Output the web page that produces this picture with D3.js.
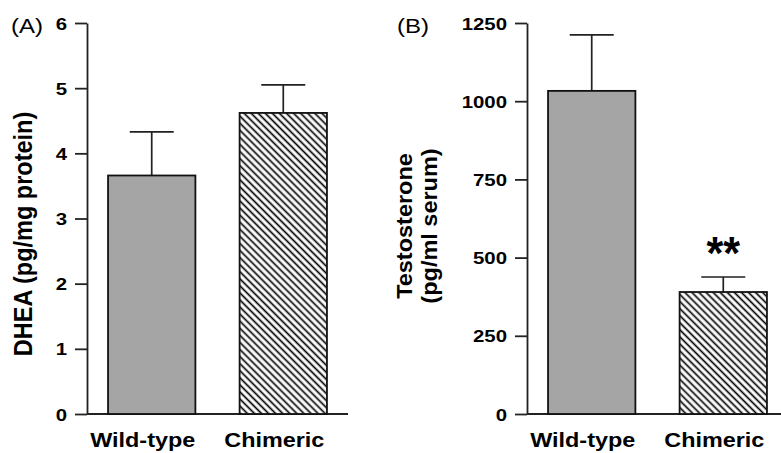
<!DOCTYPE html>
<html>
<head>
<meta charset="utf-8">
<script src="https://cdn.jsdelivr.net/npm/d3@7"></script>
<style>
  body { margin: 0; background: #fff; }
  svg { display: block; font-family: Arial, "Liberation Sans", sans-serif; }
</style>
</head>
<body>
<div id="chart"></div>
<script>
// data
const categories = ["Wild-type", "Chimeric"];
const dheaMean = [3.66, 4.62];
const dheaErr = [0.67, 0.43];
const testoMean = [1033, 390];
const testoErr = [179, 48];
const dheaTicks = [0, 1, 2, 3, 4, 5, 6];
const testoTicks = [0, 250, 500, 750, 1000, 1250];

const width = 781, height = 453;
const plotTop = 23, plotBottom = 414;
const barFills = ["#a5a5a5", "url(#hatch)"];
const sx = 1.2; // figure is stretched horizontally

let svg = d3.select("#chart")
    .append("svg")
        .attr("width", width)
        .attr("height", height);

svg.append("defs")
    .append("pattern")
        .attr("id", "hatch")
        .attr("patternUnits", "userSpaceOnUse")
        .attr("width", 5)
        .attr("height", 5)
        .attr("patternTransform", "rotate(-45)")
    .append("line")
        .attr("x1", 2.5).attr("y1", -1)
        .attr("x2", 2.5).attr("y2", 6)
        .attr("stroke", "#000")
        .attr("stroke-width", 1.7);

let drawPanel = (opts) => {
    let g = svg.append("g");

    let xScale = d3.scaleBand()
        .domain(categories)
        .range([opts.left, opts.left + 261])
        .paddingInner(0.336)
        .paddingOuter(0.16);

    let yScale = d3.scaleLinear()
        .domain([0, opts.ticks[opts.ticks.length - 1]])
        .range([plotBottom, plotTop]);

    let yAxis = d3.axisLeft(yScale)
        .tickValues(opts.ticks)
        .tickFormat(d3.format("d"))
        .tickSize(12)
        .tickSizeOuter(0);

    let ax = g.append("g")
        .attr("transform", `translate(${opts.left}, 0)`)
        .call(yAxis);
    ax.select(".domain").attr("stroke", "#222").attr("stroke-width", 1.8);
    ax.selectAll(".tick line").attr("stroke", "#222").attr("stroke-width", 1.8);
    ax.selectAll(".tick text")
        .attr("x", 0)
        .attr("dy", "0.36em")
        .attr("transform", `translate(-20, 0) scale(${sx}, 1)`)
        .style("font-size", "17px")
        .style("font-weight", "bold")
        .style("font-family", "Arial, 'Liberation Sans', sans-serif")
        .style("fill", "#000");

    // baseline
    g.append("line")
        .attr("x1", opts.left).attr("x2", opts.left + 261)
        .attr("y1", yScale(0)).attr("y2", yScale(0))
        .attr("stroke", "#222")
        .attr("stroke-width", 1.8);

    let idx = d3.range(categories.length);

    // error bars (upper only)
    g.selectAll(".err")
        .data(idx)
        .enter()
        .append("path")
        .attr("fill", "none")
        .attr("stroke", "#222")
        .attr("stroke-width", 1.7)
        .attr("d", i => {
            let cx = xScale(categories[i]) + xScale.bandwidth() / 2;
            let y0 = yScale(opts.mean[i]);
            let y1 = yScale(opts.mean[i] + opts.err[i]);
            return `M${cx},${y0}V${y1}M${cx - 22},${y1}H${cx + 22}`;
        });

    g.selectAll(".bar-bg")
        .data(idx)
        .enter()
        .append("rect")
        .attr("x", i => xScale(categories[i]))
        .attr("y", i => yScale(opts.mean[i]))
        .attr("width", xScale.bandwidth())
        .attr("height", i => yScale(0) - yScale(opts.mean[i]))
        .attr("fill", "#fff");

    g.selectAll(".bar")
        .data(idx)
        .enter()
        .append("rect")
        .attr("x", i => xScale(categories[i]))
        .attr("y", i => yScale(opts.mean[i]))
        .attr("width", xScale.bandwidth())
        .attr("height", i => yScale(0) - yScale(opts.mean[i]))
        .attr("fill", i => barFills[i])
        .attr("stroke", "#111")
        .attr("stroke-width", 1.8);

    // category labels
    g.selectAll(".cat")
        .data(categories)
        .enter()
        .append("text")
        .attr("transform", d => `translate(${xScale(d) + xScale.bandwidth() / 2 - 9}, 447) scale(${sx}, 1)`)
        .attr("text-anchor", "middle")
        .style("font-size", "19.5px")
        .style("font-weight", "bold")
        .text(d => d);

    // panel letter
    g.append("text")
        .attr("transform", `translate(${opts.letterX}, 33) scale(${sx}, 1)`)
        .style("font-size", "20px")
        .text(opts.letter);

    // y title
    let t = g.append("text")
        .attr("transform", `translate(${opts.titleX}, ${opts.titleY}) scale(${opts.titleSx}, 1) rotate(-90)`)
        .attr("text-anchor", "middle")
        .style("font-size", "23.5px")
        .style("font-weight", "bold");
    opts.title.forEach((line, k) => {
        t.append("tspan")
            .attr("x", 0)
            .attr("dy", k === 0 ? 0 : "1.1em")
            .text(line);
    });

    return { xScale, yScale };
};

drawPanel({
    left: 87,
    ticks: dheaTicks,
    mean: dheaMean,
    err: dheaErr,
    letter: "(A)",
    letterX: 11,
    title: ["DHEA (pg/mg protein)"],
    titleX: 32,
    titleY: 234,
    titleSx: 1.12
});

let b = drawPanel({
    left: 527,
    ticks: testoTicks,
    mean: testoMean,
    err: testoErr,
    letter: "(B)",
    letterX: 397,
    title: ["Testosterone", "(pg/ml serum)"],
    titleX: 412,
    titleY: 226,
    titleSx: 0.95
});

// significance mark
svg.append("text")
    .attr("transform", `translate(${b.xScale("Chimeric") + b.xScale.bandwidth() / 2}, ${b.yScale(testoMean[1] + testoErr[1]) - 8}) scale(1.2, 1.3)`)
    .attr("text-anchor", "middle")
    .style("font-size", "36px")
    .style("font-weight", "bold")
    .text("**");
</script>
</body>
</html>
